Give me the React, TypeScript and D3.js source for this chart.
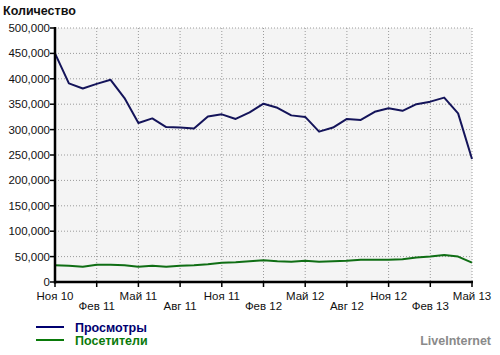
import React from "react";
import * as d3 from "d3";

const months = [
  "Ноя 10","Дек 10","Янв 11","Фев 11","Мар 11","Апр 11","Май 11","Июн 11","Июл 11","Авг 11","Сен 11","Окт 11",
  "Ноя 11","Дек 11","Янв 12","Фев 12","Мар 12","Апр 12","Май 12","Июн 12","Июл 12","Авг 12","Сен 12","Окт 12",
  "Ноя 12","Дек 12","Янв 13","Фев 13","Мар 13","Апр 13","Май 13",
];
const views = [
  450000, 391000, 381000, 390000, 398000, 362000, 313000, 322000, 305000, 304000, 302000, 326000,
  330000, 321000, 334000, 351000, 343000, 328000, 325000, 296000, 304000, 321000, 319000, 335000,
  342000, 337000, 350000, 355000, 363000, 332000, 242000,
];
const visitors = [
  33000, 32000, 30000, 34000, 34000, 33000, 30000, 32000, 30000, 32000, 33000, 35000,
  38000, 39000, 41000, 43000, 41000, 40000, 42000, 40000, 41000, 42000, 44000, 44000,
  44000, 45000, 48000, 50000, 53000, 50000, 38000,
];
const yTicks = [0, 50000, 100000, 150000, 200000, 250000, 300000, 350000, 400000, 450000, 500000];
const xTickIdx = [0, 3, 6, 9, 12, 15, 18, 21, 24, 27, 30];
const seriesNames = ["Просмотры", "Посетители"];
const seriesColors = ["#14145a", "#0f6e14"];
const legendColors = ["#000070", "#0a7a0a"];

const L = 55, R = 472, T = 28, B = 282;
const font = "'Liberation Sans', Arial, sans-serif";

export default function App() {
  const x = d3.scaleLinear().domain([0, months.length - 1]).range([L, R]);
  const y = d3.scaleLinear().domain([0, 500000]).range([B, T]);
  const line = d3.line<number>().x((_, i) => x(i)).y((d) => y(d));
  const fmt = d3.format(",");
  const series = [views, visitors];
  return (
    <svg width={500} height={355} style={{ position: "absolute", left: 0, top: 0, background: "#fff" }}>
      <text x={3} y={15} fontFamily={font} fontSize={12.5} fontWeight="bold" fill="#111">Количество</text>
      <rect x={L} y={T} width={R - L} height={B - T} fill="#f4f4f4" />
      {yTicks.filter((t) => t > 0).map((t) => (
        <line key={"gy" + t} x1={L} x2={R} y1={y(t)} y2={y(t)} stroke="#9a9a9a" strokeDasharray="1,2" />
      ))}
      {xTickIdx.filter((i) => i > 0).map((i) => (
        <line key={"gx" + i} x1={x(i)} x2={x(i)} y1={T} y2={B} stroke="#9a9a9a" strokeDasharray="1,2" />
      ))}
      {series.map((s, k) => (
        <path key={"s" + k} d={line(s) || ""} fill="none" stroke={seriesColors[k]} strokeWidth={2} strokeLinejoin="round" />
      ))}
      <line x1={L} x2={L} y1={T - 1} y2={B + 1.5} stroke="#000" strokeWidth={2.5} />
      <line x1={L - 1} x2={R + 1} y1={B} y2={B} stroke="#000" strokeWidth={2.5} />
      {yTicks.map((t) => (
        <g key={"ty" + t}>
          <line x1={L - 5} x2={L} y1={y(t)} y2={y(t)} stroke="#000" strokeWidth={1.5} />
          <text x={L - 5} y={y(t) + 4} textAnchor="end" fontFamily={font} fontSize={11.5} fill="#111">{fmt(t)}</text>
        </g>
      ))}
      {xTickIdx.map((i, j) => (
        <g key={"tx" + i}>
          <line x1={x(i)} x2={x(i)} y1={B} y2={B + 5} stroke="#000" strokeWidth={1.5} />
          <text x={x(i)} y={j % 2 === 0 ? 300 : 310} textAnchor="middle" fontFamily={font} fontSize={11.5} fill="#111">{months[i]}</text>
        </g>
      ))}
      {seriesNames.map((n, k) => (
        <g key={"lg" + k}>
          <line x1={36} x2={64} y1={327 + k * 13} y2={327 + k * 13} stroke={legendColors[k]} strokeWidth={2} />
          <text x={75} y={332 + k * 13} fontFamily={font} fontSize={12.5} fontWeight="bold" fill={legendColors[k]}>{n}</text>
        </g>
      ))}
      <text x={491} y={345} textAnchor="end" fontFamily={font} fontSize={12.5} fontWeight="bold" fill="#8a8a8a">LiveInternet</text>
    </svg>
  );
}
